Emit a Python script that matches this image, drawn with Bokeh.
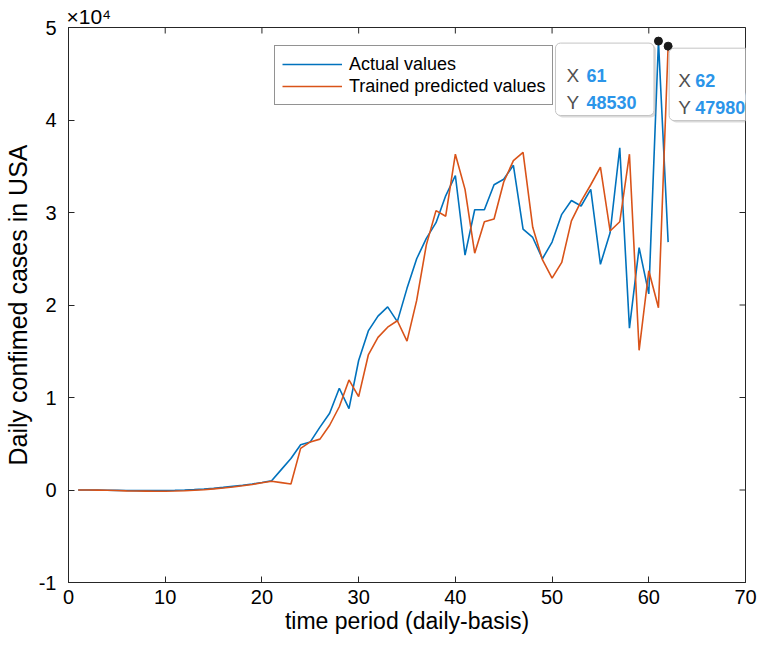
import math
from bokeh.plotting import figure
from bokeh.models import Range1d, FixedTicker, Legend, LegendItem, Label
from bokeh.embed import file_html
from bokeh.resources import INLINE

days = list(range(1, 63))
actual = [0, 0, 0, -20, -40, -60, -70, -70, -60, -50,
          -30, 0, 40, 100, 180, 280, 400, 520, 650, 820,
          1000, 2200, 3400, 4900, 5200, 6800, 8300, 11000, 8800, 14000,
          17200, 18800, 19800, 18200, 21800, 25000, 27200, 28900, 31800, 34000,
          25400, 30300, 30300, 33000, 33600, 35100, 28200, 27300, 25000, 26800,
          29800, 31300, 30700, 32500, 24400, 27800, 37000, 17500, 26200, 21200,
          48530, 26800]
predicted = [0, 0, -10, -30, -60, -90, -110, -120, -130, -130,
             -110, -80, -30, 30, 120, 220, 330, 460, 600, 780,
             950, 800, 650, 4500, 5200, 5500, 7000, 9000, 11900, 10100,
             14600, 16500, 17600, 18300, 16100, 20500, 26500, 30200, 29600, 36300,
             32500, 25600, 29000, 29300, 33300, 35600, 36500, 28400, 24900, 22900,
             24600, 29100, 31200, 33000, 34900, 28000, 29000, 36300, 15100, 23700,
             19700, 47980]
x_ticks = [0, 10, 20, 30, 40, 50, 60, 70]
y_ticks = [-10000, 0, 10000, 20000, 30000, 40000, 50000]
y_tick_labels = ["-1", "0", "1", "2", "3", "4", "5"]
series_names = ["Actual values", "Trained predicted values"]
x_title = "time period (daily-basis)"
y_title = "Daily confimed cases in USA"
exponent_text = "\u00d710\u2074"

FONT = "Liberation Sans"
AX = "#262626"
BLUE = "#0072BD"
ORANGE = "#D95319"
TIPBLUE = "#2b95e9"

x_lo, x_hi = x_ticks[0], x_ticks[-1]
y_lo, y_hi = y_ticks[0], y_ticks[-1]

p = figure(width=761, height=636, output_backend="svg", toolbar_location=None,
           x_range=Range1d(x_lo, x_hi), y_range=Range1d(y_lo, y_hi),
           title=exponent_text,
           min_border_left=65, min_border_right=16, min_border_top=27, min_border_bottom=50,
           background_fill_color="white", border_fill_color="white")
p.outline_line_color = AX
p.outline_line_width = 1
p.xgrid.visible = False
p.ygrid.visible = False
p.title.align = "left"
p.title.offset = -2
p.title.standoff = 0
p.title.text_font = FONT
p.title.text_font_style = "normal"
p.title.text_font_size = "21px"
p.title.text_color = "black"

def style_axis(ax, ticks):
    ax.ticker = FixedTicker(ticks=ticks)
    ax.axis_line_color = AX
    ax.axis_line_width = 1
    ax.major_tick_line_color = AX
    ax.major_tick_in = 6
    ax.major_tick_out = 0
    ax.minor_tick_line_color = None
    ax.major_label_text_font = FONT
    ax.major_label_text_color = "black"
    ax.major_label_text_font_size = "20px"

xa = p.xaxis[0]
style_axis(xa, x_ticks)
xa.major_label_standoff = 7
xa.axis_label = x_title
xa.axis_label_text_font = FONT
xa.axis_label_text_font_style = "normal"
xa.axis_label_text_font_size = "23px"
xa.axis_label_text_color = "black"
xa.axis_label_standoff = 1

ya = p.yaxis[0]
style_axis(ya, y_ticks)
ya.major_label_overrides = {t: l for t, l in zip(y_ticks, y_tick_labels)}
ya.major_label_standoff = 12
ya.axis_label = y_title
ya.axis_label_text_font = FONT
ya.axis_label_text_font_style = "normal"
ya.axis_label_text_font_size = "25px"
ya.axis_label_text_color = "black"
ya.axis_label_standoff = 4

# inward tick marks on the top and right edges of the box (half of each dash is clipped)
p.scatter(x_ticks, [y_hi] * len(x_ticks), marker="dash", size=12, angle=math.pi / 2,
          line_color=AX, line_width=1)
p.scatter([x_hi] * len(y_ticks), y_ticks, marker="dash", size=12,
          line_color=AX, line_width=1)

r1 = p.line(days, actual, line_color=BLUE, line_width=1.6)
r2 = p.line(days, predicted, line_color=ORANGE, line_width=1.6)

legend = Legend(items=[LegendItem(label=series_names[0], renderers=[r1]),
                       LegendItem(label=series_names[1], renderers=[r2])],
                location=(206, 477), orientation="vertical",
                label_text_font=FONT, label_text_font_size="18px", label_text_color="black",
                glyph_width=60, glyph_height=22, label_height=22, label_standoff=7,
                spacing=0, padding=7, margin=0,
                border_line_color=AX, border_line_width=1,
                background_fill_color="white", background_fill_alpha=1)
p.add_layout(legend, "center")

# data tips
tip_x = [days[60], days[61]]
tip_y = [actual[60], predicted[61]]
p.scatter(tip_x, tip_y, size=8, color="#1a1a1a")

def add_tip(xv, yv, box_dx, text_dx, val_dx):
    txt = "X %d\nY %d" % (xv, yv)
    for sh, col, alpha in [(2, "#999999", 0.35), (0, "#ffffff", 1.0)]:
        p.add_layout(Label(x=xv, y=yv, x_offset=box_dx + sh, y_offset=-2 - sh,
                           text=txt, text_color=col, text_alpha=alpha,
                           text_font=FONT, text_font_size="20px",
                           text_align="left", text_baseline="top", padding=12,
                           background_fill_color=col, background_fill_alpha=alpha,
                           border_line_color="#c4c4c4" if sh == 0 else None,
                           border_radius=5))
    for row, (letter, val) in enumerate([("X", xv), ("Y", yv)]):
        base = -34 - 27 * row
        p.add_layout(Label(x=xv, y=yv, x_offset=box_dx + text_dx, y_offset=base,
                           text=letter, text_font=FONT, text_font_size="19px",
                           text_color="#505050", text_align="left", text_baseline="alphabetic"))
        p.add_layout(Label(x=xv, y=yv, x_offset=box_dx + val_dx, y_offset=base,
                           text=str(val), text_font=FONT, text_font_size="18px",
                           text_font_style="bold",
                           text_color=TIPBLUE, text_align="left", text_baseline="alphabetic"))

add_tip(tip_x[0], tip_y[0], -103, 11, 31)
add_tip(tip_x[1], tip_y[1], 1, 9, 26)

open("out.html", "w").write(file_html(p, INLINE))
